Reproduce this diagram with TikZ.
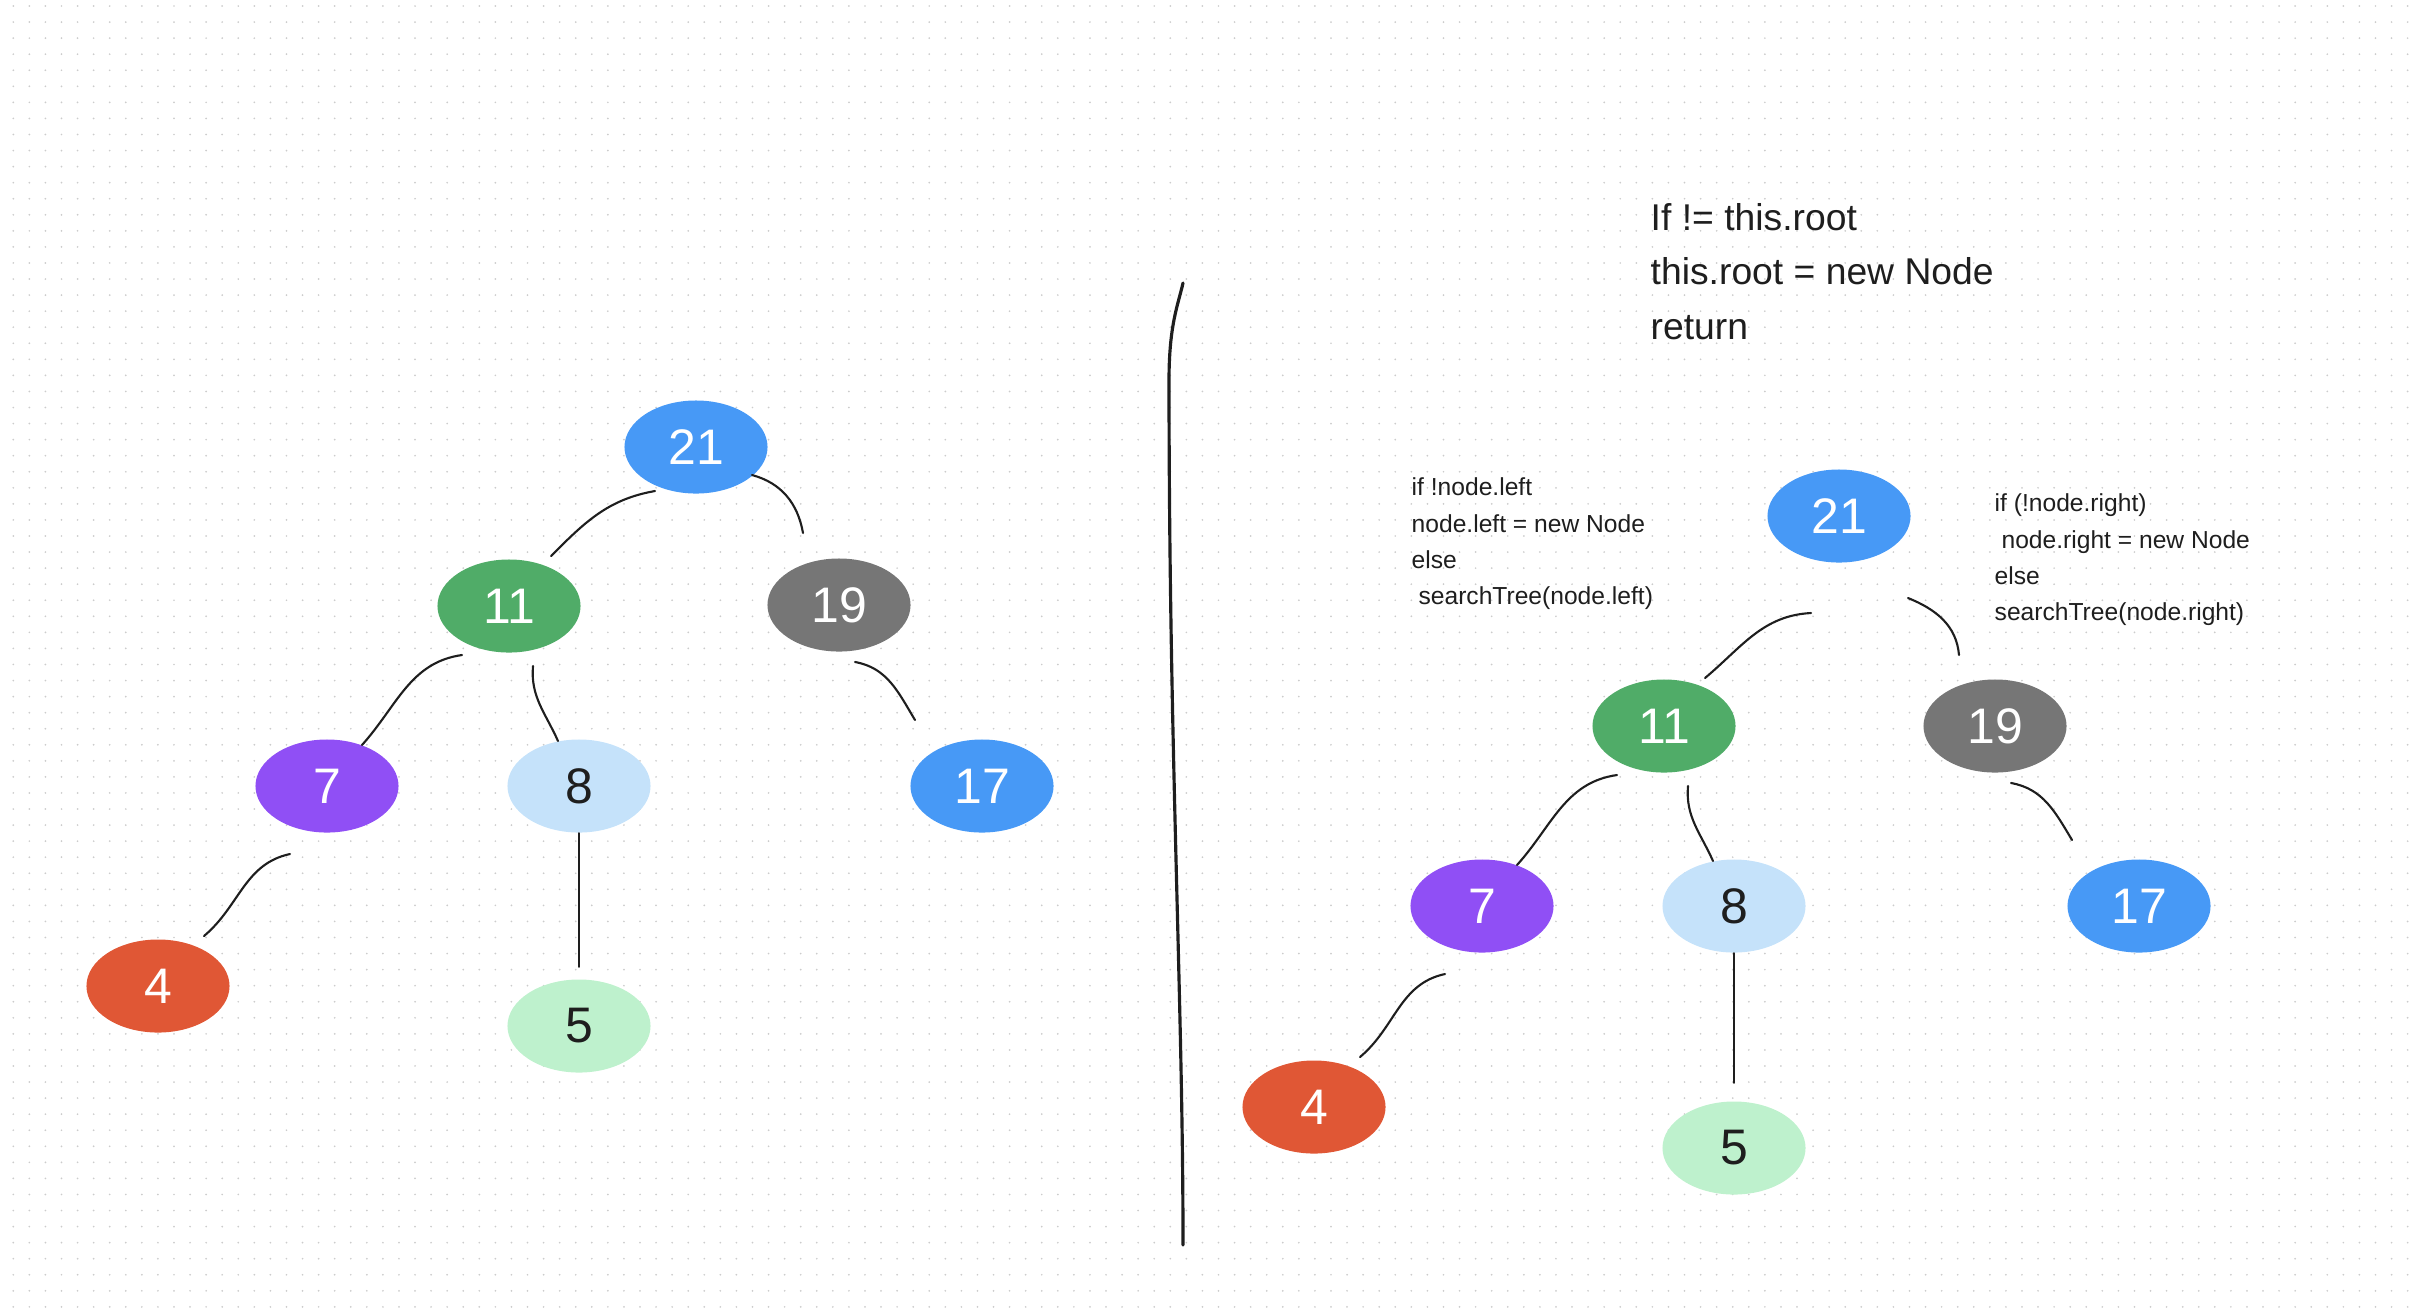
\documentclass[tikz,border=0pt]{standalone}
\usepackage{fontspec}
\setmainfont{Liberation Sans}
\usetikzlibrary{shapes.geometric}
\definecolor{ink}{HTML}{1E1E1E}
\definecolor{dotgray}{HTML}{CCCCCC}
\definecolor{nblue}{HTML}{4799F6}
\definecolor{ngreen}{HTML}{50AC68}
\definecolor{ngray}{HTML}{767676}
\definecolor{npurple}{HTML}{904FF5}
\definecolor{nsky}{HTML}{C5E2FA}
\definecolor{nred}{HTML}{E05735}
\definecolor{nmint}{HTML}{BEF1CD}

\begin{document}
\begin{tikzpicture}[x=0.01cm, y=-0.01cm,
  tnode/.style={ellipse, inner sep=0pt, minimum width=1.43cm, minimum height=0.93cm,
    text=white, font=\fontsize{14.2pt}{17pt}\selectfont},
  edge/.style={ink, line width=0.6pt, line cap=round},
  note/.style={anchor=base west, align=left, inner sep=0pt, text=ink},
  dotrow/.style={dotgray, line width=0.55pt, line cap=round, dash pattern=on 0pt off 0.1606cm}]
  \useasboundingbox (0,0) rectangle (2416,1308);
  % Dot grid
  \foreach \r in {0,...,81}
    \draw[dotrow] (13.3,{6+16.06*\r}) -- (2416,{6+16.06*\r});

  % Left tree
  \node[tnode, fill=nblue] (l21) at (696,447) {21};
  \node[tnode, fill=ngreen] (l11) at (509,606) {11};
  \node[tnode, fill=ngray] (l19) at (839,605) {19};
  \node[tnode, fill=npurple] (l7) at (327,786) {7};
  \node[tnode, fill=nsky, text=ink] (l8) at (579,786) {8};
  \node[tnode, fill=nblue] (l17) at (982,786) {17};
  \node[tnode, fill=nred] (l4) at (158,986) {4};
  \node[tnode, fill=nmint, text=ink] (l5) at (579,1026) {5};
  \draw[edge] ([shift={(-41,44)}]l21.center) to[out=190,in=45] ([shift={(42,-50)}]l11.center);
  \draw[edge] ([shift={(56,28)}]l21.center) to[out=-15,in=100] ([shift={(-36,-72)}]l19.center);
  \draw[edge] ([shift={(-47,49)}]l11.center) to[out=188,in=48] ([shift={(35,-41)}]l7.center);
  \draw[edge] ([shift={(24,60)}]l11.center) to[out=-95,in=114] ([shift={(-21,-45)}]l8.center);
  \draw[edge] ([shift={(16,57)}]l19.center) to[out=-10,in=121] ([shift={(-67,-66)}]l17.center);
  \draw[edge] ([shift={(-37,68)}]l7.center) to[out=192,in=40] ([shift={(46,-50)}]l4.center);
  \draw[edge] (l8.south) -- ([shift={(0,-12)}]l5.north);

  % Divider
  \draw[ink, line width=0.9pt, line cap=round] (1183,283) .. controls (1178,305) and (1169,325) .. (1169,380)
    .. controls (1169,750) and (1183,1000) .. (1183,1245);

  % Right tree
  \node[tnode, fill=nblue] (r21) at (1839,516) {21};
  \node[tnode, fill=ngreen] (r11) at (1664,726) {11};
  \node[tnode, fill=ngray] (r19) at (1995,726) {19};
  \node[tnode, fill=npurple] (r7) at (1482,906) {7};
  \node[tnode, fill=nsky, text=ink] (r8) at (1734,906) {8};
  \node[tnode, fill=nblue] (r17) at (2139,906) {17};
  \node[tnode, fill=nred] (r4) at (1314,1107) {4};
  \node[tnode, fill=nmint, text=ink] (r5) at (1734,1148) {5};
  \draw[edge] ([shift={(-28,97)}]r21.center) to[out=183,in=40] ([shift={(41,-48)}]r11.center);
  \draw[edge] ([shift={(69,82)}]r21.center) to[out=-22,in=95] ([shift={(-36,-71)}]r19.center);
  \draw[edge] ([shift={(-47,49)}]r11.center) to[out=188,in=48] ([shift={(35,-41)}]r7.center);
  \draw[edge] ([shift={(24,60)}]r11.center) to[out=-95,in=114] ([shift={(-21,-45)}]r8.center);
  \draw[edge] ([shift={(16,57)}]r19.center) to[out=-10,in=121] ([shift={(-67,-66)}]r17.center);
  \draw[edge] ([shift={(-37,68)}]r7.center) to[out=192,in=40] ([shift={(46,-50)}]r4.center);
  \draw[edge] (r8.south) -- ([shift={(0,-18)}]r5.north);

  % Notes (anchored at the last baseline)
  \node[note, font=\fontsize{10.6pt}{15.36pt}\selectfont] (rootnote) at (1650,339)
    {If != this.root\\this.root = new Node\\return};
  \node[note, font=\fontsize{7pt}{10.24pt}\selectfont] (leftnote) at (1411,604)
    {if !node.left\\node.left = new Node\\else\\\ searchTree(node.left)};
  \node[note, font=\fontsize{7pt}{10.24pt}\selectfont] (rightnote) at (1994,620)
    {if (!node.right)\\\ node.right = new Node\\else\\searchTree(node.right)};
\end{tikzpicture}
\end{document}
